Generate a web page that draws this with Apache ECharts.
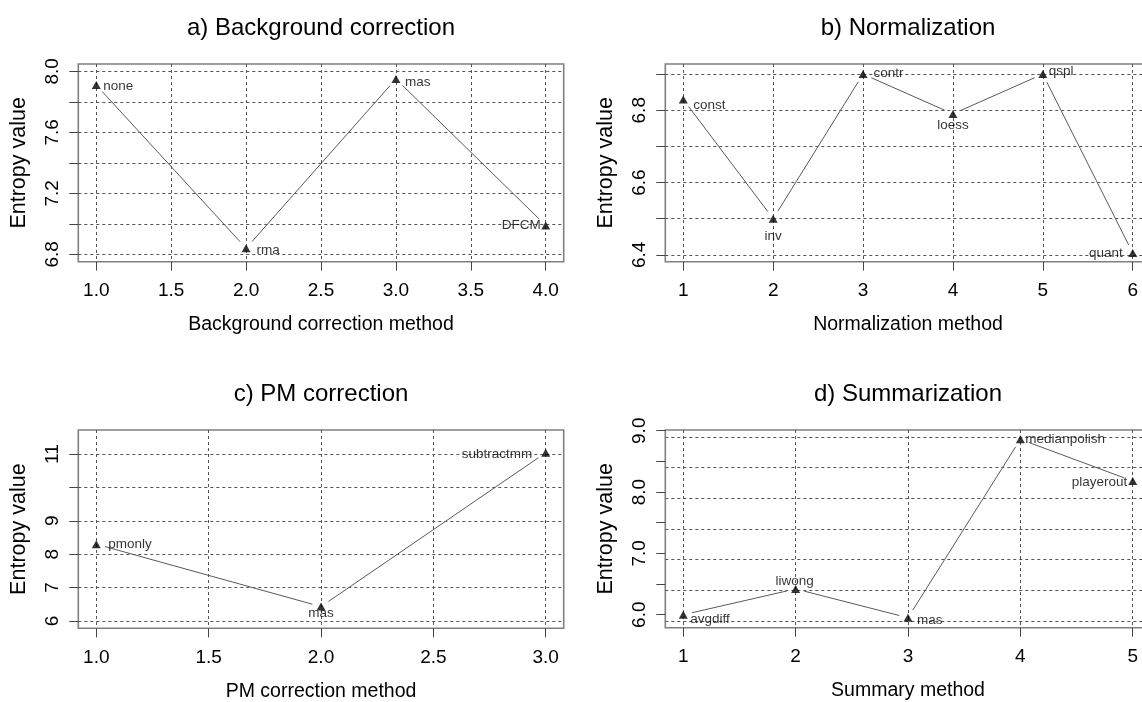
<!DOCTYPE html>
<html>
<head>
<meta charset="utf-8">
<script src="https://cdn.jsdelivr.net/npm/echarts@6/dist/echarts.min.js"></script>
<style>
  html, body { margin: 0; padding: 0; background: #ffffff; }
  #chart { width: 1142px; height: 702px; }
</style>
</head>
<body>
<div id="chart"></div>
<script>
// a) Background correction
const bgMethods = ['none', 'rma', 'mas', 'DFCM'];
const bgEntropy = [7.91, 6.84, 7.95, 6.99];
const bgXTicks = [1.0, 1.5, 2.0, 2.5, 3.0, 3.5, 4.0];
const bgYTicks = [6.8, 7.0, 7.2, 7.4, 7.6, 7.8, 8.0];
const bgYLabels = [6.8, 7.2, 7.6, 8.0];

// b) Normalization
const normMethods = ['const', 'inv', 'contr', 'loess', 'qspl', 'quant'];
const normEntropy = [6.83, 6.50, 6.90, 6.79, 6.90, 6.405];
const normXTicks = [1, 2, 3, 4, 5, 6];
const normYTicks = [6.4, 6.5, 6.6, 6.7, 6.8, 6.9];
const normYLabels = [6.4, 6.6, 6.8];

// c) PM correction
const pmMethods = ['pmonly', 'mas', 'subtractmm'];
const pmEntropy = [8.30, 6.43, 11.04];
const pmXTicks = [1.0, 1.5, 2.0, 2.5, 3.0];
const pmYTicks = [6, 7, 8, 9, 10, 11];
const pmYLabels = [6, 7, 8, 9, 11];

// d) Summarization
const sumMethods = ['avgdiff', 'liwong', 'mas', 'medianpolish', 'playerout'];
const sumEntropy = [6.00, 6.42, 5.95, 8.86, 8.18];
const sumXTicks = [1, 2, 3, 4, 5];
const sumYTicks = [6.0, 6.5, 7.0, 7.5, 8.0, 8.5, 9.0];
const sumYLabels = [6.0, 7.0, 8.0, 9.0];
const sumYGrid = [5.9, 6.4, 6.9, 7.4, 7.9, 8.4, 8.9];

const FONT = '"Liberation Sans", Arial, Helvetica, sans-serif';
const gridLine = { color: '#555555', width: 1, type: [3, 3] };
const tickLine = { color: '#444444', width: 1 };

// Layout and label placement of the four panels: [align, dx, dy] per point.
const panels = [
  {
    title: 'a) Background correction', xName: 'Background correction method',
    methods: bgMethods, values: bgEntropy,
    xTicks: bgXTicks, yTicks: bgYTicks, yLabels: bgYLabels, yGrid: null,
    xMin: 0.88, xMax: 4.12, yMin: 6.752, yMax: 8.048, xDigits: 1, yDigits: 1,
    left: 78.3, top: 64, height: 197.7, titleTop: 16,
    place: [['left', 7, 1], ['left', 10.5, 2], ['left', 9, 3], ['right', -5, 0]]
  },
  {
    title: 'b) Normalization', xName: 'Normalization method',
    methods: normMethods, values: normEntropy,
    xTicks: normXTicks, yTicks: normYTicks, yLabels: normYLabels, yGrid: null,
    xMin: 0.8, xMax: 6.2, yMin: 6.381, yMax: 6.928, xDigits: 0, yDigits: 1,
    left: 665.3, top: 64, height: 197.7, titleTop: 16,
    place: [['left', 10, 5.5], ['center', 0, 17.5], ['left', 10.5, -1],
            ['center', 0, 11], ['left', 6, -2.5], ['right', -10, 0.5]]
  },
  {
    title: 'c) PM correction', xName: 'PM correction method',
    methods: pmMethods, values: pmEntropy,
    xTicks: pmXTicks, yTicks: pmYTicks, yLabels: pmYLabels, yGrid: null,
    xMin: 0.92, xMax: 3.08, yMin: 5.78, yMax: 11.72, xDigits: 1, yDigits: 0,
    left: 78.3, top: 430, height: 198.3, titleTop: 382,
    place: [['left', 12, 0], ['center', 0, 6.5], ['right', -13.5, 2]]
  },
  {
    title: 'd) Summarization', xName: 'Summary method',
    methods: sumMethods, values: sumEntropy,
    xTicks: sumXTicks, yTicks: sumYTicks, yLabels: sumYLabels, yGrid: sumYGrid,
    xMin: 0.84, xMax: 5.16, yMin: 5.788, yMax: 9.012, xDigits: 0, yDigits: 1,
    left: 665.3, top: 430, height: 197.7, titleTop: 382,
    place: [['left', 7, 5], ['center', -1, -8], ['left', 9, 2.7],
            ['left', 5, 0], ['right', -5.5, 1]]
  }
];
const PLOT_W = 485.4;

const option = {
  animation: false,
  backgroundColor: '#ffffff',
  textStyle: { fontFamily: FONT, color: '#000000' },
  title: [], grid: [], xAxis: [], yAxis: [], series: []
};

panels.forEach((p, i) => {
  option.title.push({
    text: p.title, left: p.left + PLOT_W / 2, top: p.titleTop, padding: 0,
    textAlign: 'center',
    textStyle: { fontFamily: FONT, fontSize: 24, fontWeight: 'normal', color: '#000000' }
  });
  option.grid.push({
    left: p.left, top: p.top, width: PLOT_W, height: p.height,
    containLabel: false, outerBoundsMode: 'none', show: true,
    borderColor: '#808080', borderWidth: 1.6, backgroundColor: 'transparent'
  });
  option.xAxis.push({
    gridIndex: i, type: 'value', min: p.xMin, max: p.xMax,
    axisLine: { show: false },
    axisTick: { show: true, length: 9, customValues: p.xTicks, lineStyle: tickLine },
    axisLabel: {
      customValues: p.xTicks, fontSize: 19, margin: 20, color: '#000000', fontFamily: FONT,
      formatter: v => Number(v).toFixed(p.xDigits)
    },
    splitLine: { show: true, lineStyle: gridLine },
    name: p.xName, nameLocation: 'middle', nameGap: 53,
    nameTextStyle: { fontSize: 19.5, color: '#000000', fontFamily: FONT }
  });
  option.yAxis.push({
    gridIndex: i, type: 'value', min: p.yMin, max: p.yMax,
    axisLine: { show: false },
    axisTick: { show: true, length: 9, customValues: p.yTicks, lineStyle: tickLine },
    axisLabel: {
      customValues: p.yLabels, rotate: 90, fontSize: 19, margin: 16.5, color: '#000000',
      fontFamily: FONT, formatter: v => Number(v).toFixed(p.yDigits)
    },
    splitLine: { show: !p.yGrid, lineStyle: gridLine },
    name: 'Entropy value', nameLocation: 'middle', nameRotate: 90, nameGap: 48.5,
    nameTextStyle: { fontSize: 21.5, color: '#000000', fontFamily: FONT }
  });
});

// Reference lines that sit between the labelled ticks (panel d).
panels.forEach((p, i) => {
  if (!p.yGrid) return;
  option.yAxis.push({
    gridIndex: i, type: 'value', min: p.yMin, max: p.yMax,
    axisLine: { show: false },
    axisTick: { show: false, customValues: p.yGrid },
    axisLabel: { show: false, customValues: p.yGrid },
    splitLine: { show: true, lineStyle: gridLine }
  });
});

panels.forEach((p, i) => {
  const pts = p.values.map((v, k) => [k + 1, v]);
  const segments = [];
  for (let k = 0; k < pts.length - 1; k++) {
    segments.push([pts[k][0], pts[k][1], pts[k + 1][0], pts[k + 1][1]]);
  }
  // connecting lines, stopped short of each marker
  option.series.push({
    type: 'custom', xAxisIndex: i, yAxisIndex: i, silent: true, clip: false,
    dimensions: ['x1', 'y1', 'x2', 'y2'],
    encode: { x: [0, 2], y: [1, 3] },
    data: segments,
    renderItem: (params, api) => {
      const a = api.coord([api.value(0), api.value(1)]);
      const b = api.coord([api.value(2), api.value(3)]);
      const dx = b[0] - a[0], dy = b[1] - a[1];
      const len = Math.hypot(dx, dy);
      const gap = 9;
      const ux = dx / len, uy = dy / len;
      return {
        type: 'line',
        shape: { x1: a[0] + ux * gap, y1: a[1] + uy * gap, x2: b[0] - ux * gap, y2: b[1] - uy * gap },
        style: { stroke: '#5a5a5a', lineWidth: 1 }
      };
    }
  });
  // triangle markers with method names
  option.series.push({
    type: 'scatter', xAxisIndex: i, yAxisIndex: i, silent: true, clip: false,
    symbol: 'triangle', symbolSize: [9, 8],
    itemStyle: { color: '#000000' },
    data: pts.map((pt, k) => ({
      value: pt,
      label: {
        show: true, position: 'inside', formatter: p.methods[k],
        align: p.place[k][0], verticalAlign: 'middle',
        offset: [p.place[k][1], p.place[k][2]],
        fontSize: 13.5, color: '#000000', fontFamily: FONT
      }
    }))
  });
});

const chart = echarts.init(document.getElementById('chart'), null, { renderer: 'canvas' });
chart.setOption(option);
</script>
</body>
</html>
